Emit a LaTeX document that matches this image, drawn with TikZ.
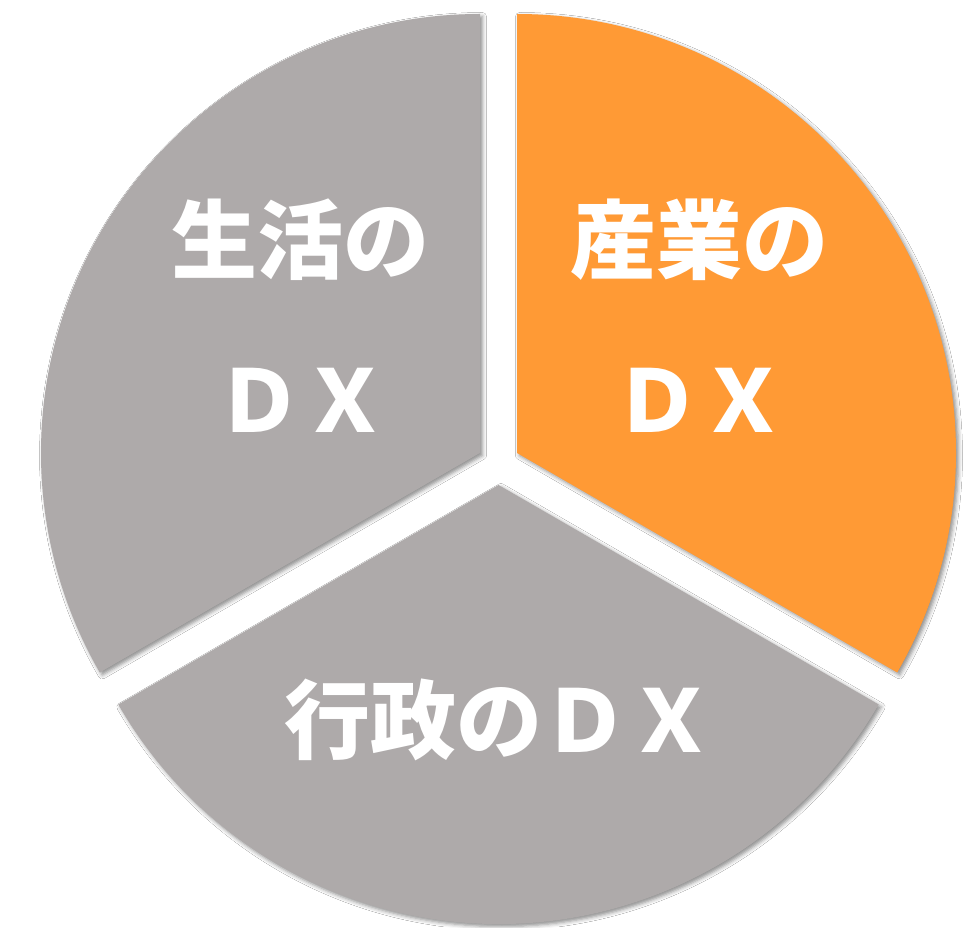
\documentclass[tikz,border=0pt]{standalone}
\usepackage{fontspec}
\newfontfamily\jp{Noto Sans CJK JP}
\usetikzlibrary{shadows.blur}
\definecolor{piegray}{HTML}{AEAAAA}
\definecolor{pieorange}{HTML}{FF9A35}
\tikzset{
  sector/.style={draw=none, blur shadow={shadow xshift=2.5pt, shadow yshift=-2.5pt, shadow blur radius=4pt, shadow opacity=45}},
  lab/.style={text=white, font=\jp\bfseries\fontsize{86}{100}\selectfont, inner sep=0pt, anchor=center}
}
\begin{document}
\begin{tikzpicture}[x=1pt,y=1pt]
\useasboundingbox (0,0) rectangle (974,927);
\fill[white] (0,0) rectangle (974,927);
\def\R{439}
\path[sector, fill=piegray] (480,474) -- ++(90:\R) arc[start angle=90, end angle=210, radius=\R] -- cycle;
\path[sector, fill=piegray] (498.5,442) -- ++(210:\R) arc[start angle=210, end angle=330, radius=\R] -- cycle;
\path[sector, fill=pieorange] (517,474) -- ++(90:\R) arc[start angle=90, end angle=-30, radius=\R] -- cycle;
\node[lab] (l1) at (300,687) {生活の};
\node[lab] (l2) at (302,527) {ＤＸ};
\node[lab] (r1) at (699,687) {産業の};
\node[lab] (r2) at (700,527) {ＤＸ};
\node[lab] (b1) at (499,207) {行政のＤＸ};
\end{tikzpicture}
\end{document}
